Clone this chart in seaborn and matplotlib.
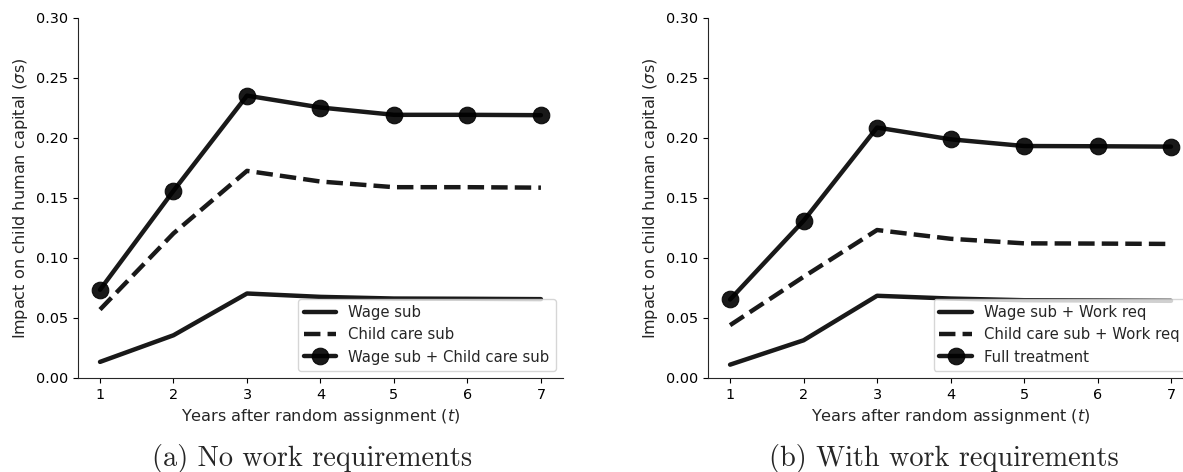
import numpy as np
import pandas as pd
import matplotlib
matplotlib.use("Agg")
import matplotlib.pyplot as plt
import seaborn as sns

years = [1, 2, 3, 4, 5, 6, 7]

# Panel (a): no work requirements
a_wage = [0.0134, 0.0356, 0.0704, 0.0676, 0.0662, 0.0660, 0.0657]
a_child = [0.0570, 0.1205, 0.1726, 0.1637, 0.1590, 0.1590, 0.1586]
a_both = [0.0735, 0.1560, 0.2353, 0.2254, 0.2193, 0.2193, 0.2190]
a_labels = ["Wage sub", "Child care sub", "Wage sub + Child care sub"]

# Panel (b): with work requirements
b_wage = [0.0111, 0.0314, 0.0685, 0.0662, 0.0648, 0.0646, 0.0643]
b_child = [0.0440, 0.0843, 0.1233, 0.1160, 0.1122, 0.1120, 0.1117]
b_full = [0.0654, 0.1310, 0.2087, 0.1989, 0.1933, 0.1931, 0.1928]
b_labels = ["Wage sub + Work req", "Child care sub + Work req", "Full treatment"]

captions = ["(a) No work requirements", "(b) With work requirements"]
xlabel = "Years after random assignment ($t$)"
ylabel = r"Impact on child human capital ($\sigma$s)"
yticks = [0.00, 0.05, 0.10, 0.15, 0.20, 0.25, 0.30]

sns.set_style("ticks")
plt.rcParams["font.family"] = ["DejaVu Sans"]
plt.rcParams["mathtext.fontset"] = "dejavusans"

fig = plt.figure(figsize=(11.83, 4.72), dpi=100)
ax1 = fig.add_axes([0.0659, 0.1992, 0.41, 0.7627])
ax2 = fig.add_axes([0.5985, 0.1992, 0.41, 0.7627])

col = "black"

def draw(ax, wage, child, both, labels):
    sns.lineplot(x=years, y=wage, ax=ax, color=col, lw=3.2, alpha=0.9,
                 label=labels[0])
    sns.lineplot(x=years, y=child, ax=ax, color=col, lw=3.2, alpha=0.9,
                 label=labels[1], linestyle="--")
    sns.lineplot(x=years, y=both, ax=ax, color=col, lw=3.2, alpha=0.9,
                 label=labels[2], marker="o", markersize=12,
                 markeredgecolor=col)
    ax.set_ylim(0, 0.30)
    ax.set_xlim(0.7, 7.3)
    ax.set_yticks(yticks)
    ax.set_yticklabels([f"{v:.2f}" for v in yticks])
    ax.set_xticks(years)
    ax.set_xlabel(xlabel, fontsize=11.6)
    ax.set_ylabel(ylabel, fontsize=11.6)
    ax.tick_params(labelsize=10.4, colors="black")
    sns.despine(ax=ax)
    ax.legend(loc="lower right", fontsize=10.7, handlelength=2.2)

draw(ax1, a_wage, a_child, a_both, a_labels)
draw(ax2, b_wage, b_child, b_full, b_labels)

fig.text(0.2642, 0.0135, captions[0], fontsize=20.4, family="cmr10",
         ha="center", va="baseline")
fig.text(0.7976, 0.0135, captions[1], fontsize=20.4, family="cmr10",
         ha="center", va="baseline")

fig.savefig("out.png", dpi=100)
